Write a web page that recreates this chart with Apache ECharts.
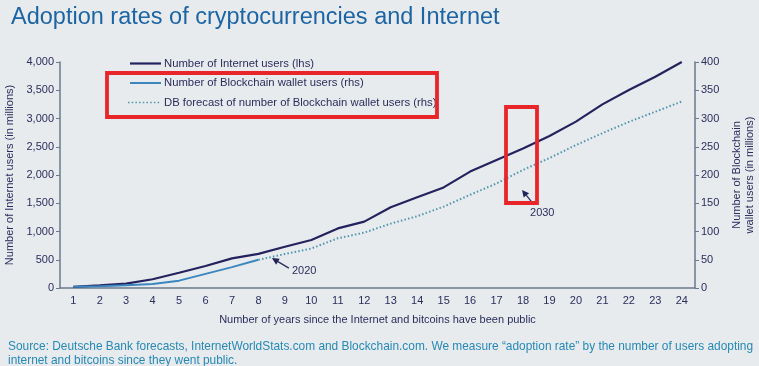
<!DOCTYPE html>
<html><head><meta charset="utf-8">
<script src="https://cdn.jsdelivr.net/npm/echarts@6/dist/echarts.min.js"></script>
<style>html,body{margin:0;padding:0;background:#e8ebee;}#c{width:759px;height:366px;}</style>
</head><body><div id="c"></div>
<script>
const years = ['1','2','3','4','5','6','7','8','9','10','11','12','13','14','15','16','17','18','19','20','21','22','23','24'];
const internetUsers = [20,45,78,155,270,390,525,605,730,850,1055,1175,1430,1605,1780,2060,2265,2470,2690,2945,3250,3505,3740,4000];
const blockchainUsers = [2,3,5,7,13,25,37,50,null,null,null,null,null,null,null,null,null,null,null,null,null,null,null,null];
const forecastUsers = [null,null,null,null,null,null,null,50,60,70,88,98,114,127,144,165,185,209,230,253,274,294,312,330];
const seriesNames = ['Number of Internet users (lhs)','Number of Blockchain wallet users (rhs)','DB forecast of number of Blockchain wallet users (rhs)'];
const leftTicks = [0,4000,500];
const rightTicks = [0,400,50];

const FONT = 'Liberation Sans';
const TXT = '#2b2d5c';
const C_NET = '#24225e', C_BC = '#3b86bf', C_FC = '#4f95ad';
const chart = echarts.init(document.getElementById('c'), null, {renderer:'canvas'});
const legendG = [];
const legendStyles = [
  {stroke:C_NET, lineWidth:2.2},
  {stroke:C_BC, lineWidth:2},
  {stroke:C_FC, lineWidth:1.6, lineDash:[1.5,2.2]}
];
seriesNames.forEach((n,i)=>{
  const y = 63.5 + i*19.5;
  legendG.push({type:'line', shape:{x1:i===2?128:130,y1:y,x2:161,y2:y}, style:legendStyles[i], z:60});
  legendG.push({type:'text', x:164, y:y, style:{text:n, font:'11.3px "Liberation Sans"', fill:TXT, verticalAlign:'middle'}, z:60});
});
const option = {
  backgroundColor:'#e8ebee',
  animation:false,
  textStyle:{fontFamily:FONT},
  title:{text:'Adoption rates of cryptocurrencies and Internet', left:6, top:1,
    textStyle:{fontSize:23.5, fontWeight:'normal', color:'#1c64a4', fontFamily:FONT}},
  grid:{left:60, right:64, top:62, bottom:78, containLabel:false, outerBoundsMode:'none'},
  xAxis:{type:'category', data:years, boundaryGap:true,
    name:'Number of years since the Internet and bitcoins have been public', nameLocation:'middle', nameGap:26,
    nameTextStyle:{fontSize:11, color:TXT},
    axisLine:{lineStyle:{color:'#6b7a8c', width:1.5}},
    axisTick:{inside:true, length:4, lineStyle:{color:'#6b7a8c'}},
    axisLabel:{fontSize:11, color:TXT, margin:7}},
  yAxis:[
    {type:'value', min:leftTicks[0], max:leftTicks[1], interval:leftTicks[2], position:'left',
      name:'Number of Internet users (in millions)', nameLocation:'middle', nameGap:44, nameRotate:90,
      nameTextStyle:{fontSize:11, color:TXT},
      axisLine:{show:true, lineStyle:{color:'#6b7a8c', width:1.5}},
      axisTick:{show:true, length:4, lineStyle:{color:'#6b7a8c'}},
      splitLine:{show:false},
      axisLabel:{fontSize:11, color:TXT, margin:6, formatter:v=>v.toLocaleString('en-US')}},
    {type:'value', min:rightTicks[0], max:rightTicks[1], interval:rightTicks[2], position:'right',
      name:'Number of Blockchain\nwallet users (in millions)', nameLocation:'middle', nameGap:32, nameRotate:90,
      nameTextStyle:{fontSize:11, color:TXT, lineHeight:13},
      axisLine:{show:true, lineStyle:{color:'#6b7a8c', width:1.5}},
      axisTick:{show:true, length:4, lineStyle:{color:'#6b7a8c'}},
      splitLine:{show:false},
      axisLabel:{fontSize:11, color:TXT, margin:6}}
  ],
  series:[
    {name:seriesNames[0], type:'line', yAxisIndex:0, data:internetUsers, symbol:'none',
      lineStyle:{color:C_NET, width:2.2}, itemStyle:{color:C_NET}},
    {name:seriesNames[1], type:'line', yAxisIndex:1, data:blockchainUsers, symbol:'none',
      lineStyle:{color:C_BC, width:2}, itemStyle:{color:C_BC}},
    {name:seriesNames[2], type:'line', yAxisIndex:1, data:forecastUsers, symbol:'none',
      lineStyle:{color:C_FC, width:2, type:[1.5,2.2]}, itemStyle:{color:C_FC}}
  ],
  graphic:[
    {type:'rect', shape:{x:107, y:73, width:330, height:44}, style:{fill:'none', stroke:'#e8262a', lineWidth:3.8}, z:100},
    {type:'rect', shape:{x:506, y:107, width:31, height:96}, style:{fill:'none', stroke:'#e8262a', lineWidth:3.8}, z:100},
    {type:'text', left:8, top:340, style:{text:'Source: Deutsche Bank forecasts, InternetWorldStats.com and Blockchain.com. We measure “adoption rate” by the number of users adopting\ninternet and bitcoins since they went public.',
      font:'11.9px "Liberation Sans"', fill:'#2589b6', lineHeight:14}}
  ].concat(legendG)
};
chart.setOption(option);

function arrow(from, to){
  const ang = Math.atan2(to[1]-from[1], to[0]-from[0]);
  const L=7, W=3.5;
  const bx = to[0]-L*Math.cos(ang), by = to[1]-L*Math.sin(ang);
  const px = -Math.sin(ang)*W, py = Math.cos(ang)*W;
  return [
    {type:'line', shape:{x1:from[0],y1:from[1],x2:bx,y2:by}, style:{stroke:'#2b2d5c', lineWidth:1.3}, z:50},
    {type:'polygon', shape:{points:[[to[0],to[1]],[bx+px,by+py],[bx-px,by-py]]}, style:{fill:'#1f2357'}, z:50}
  ];
}
const p2020 = chart.convertToPixel({xAxisIndex:0, yAxisIndex:1}, [8, forecastUsers[8]]);
const p2030 = chart.convertToPixel({xAxisIndex:0, yAxisIndex:1}, [17, forecastUsers[17]]);
const g = [].concat(
  arrow([p2020[0]+4, p2020[1]+14], [p2020[0]-13, p2020[1]+4]),
  [{type:'text', x:p2020[0]+7, y:p2020[1]+11, style:{text:'2020', font:'11px "Liberation Sans"', fill:TXT}, z:50}],
  arrow([p2030[0]+11, p2030[1]+35], [p2030[0]-1, p2030[1]+20]),
  [{type:'text', x:p2030[0]+7, y:p2030[1]+38, style:{text:'2030', font:'11px "Liberation Sans"', fill:TXT}, z:50}]
);
chart.setOption({graphic: option.graphic.concat(g)});
</script></body></html>
